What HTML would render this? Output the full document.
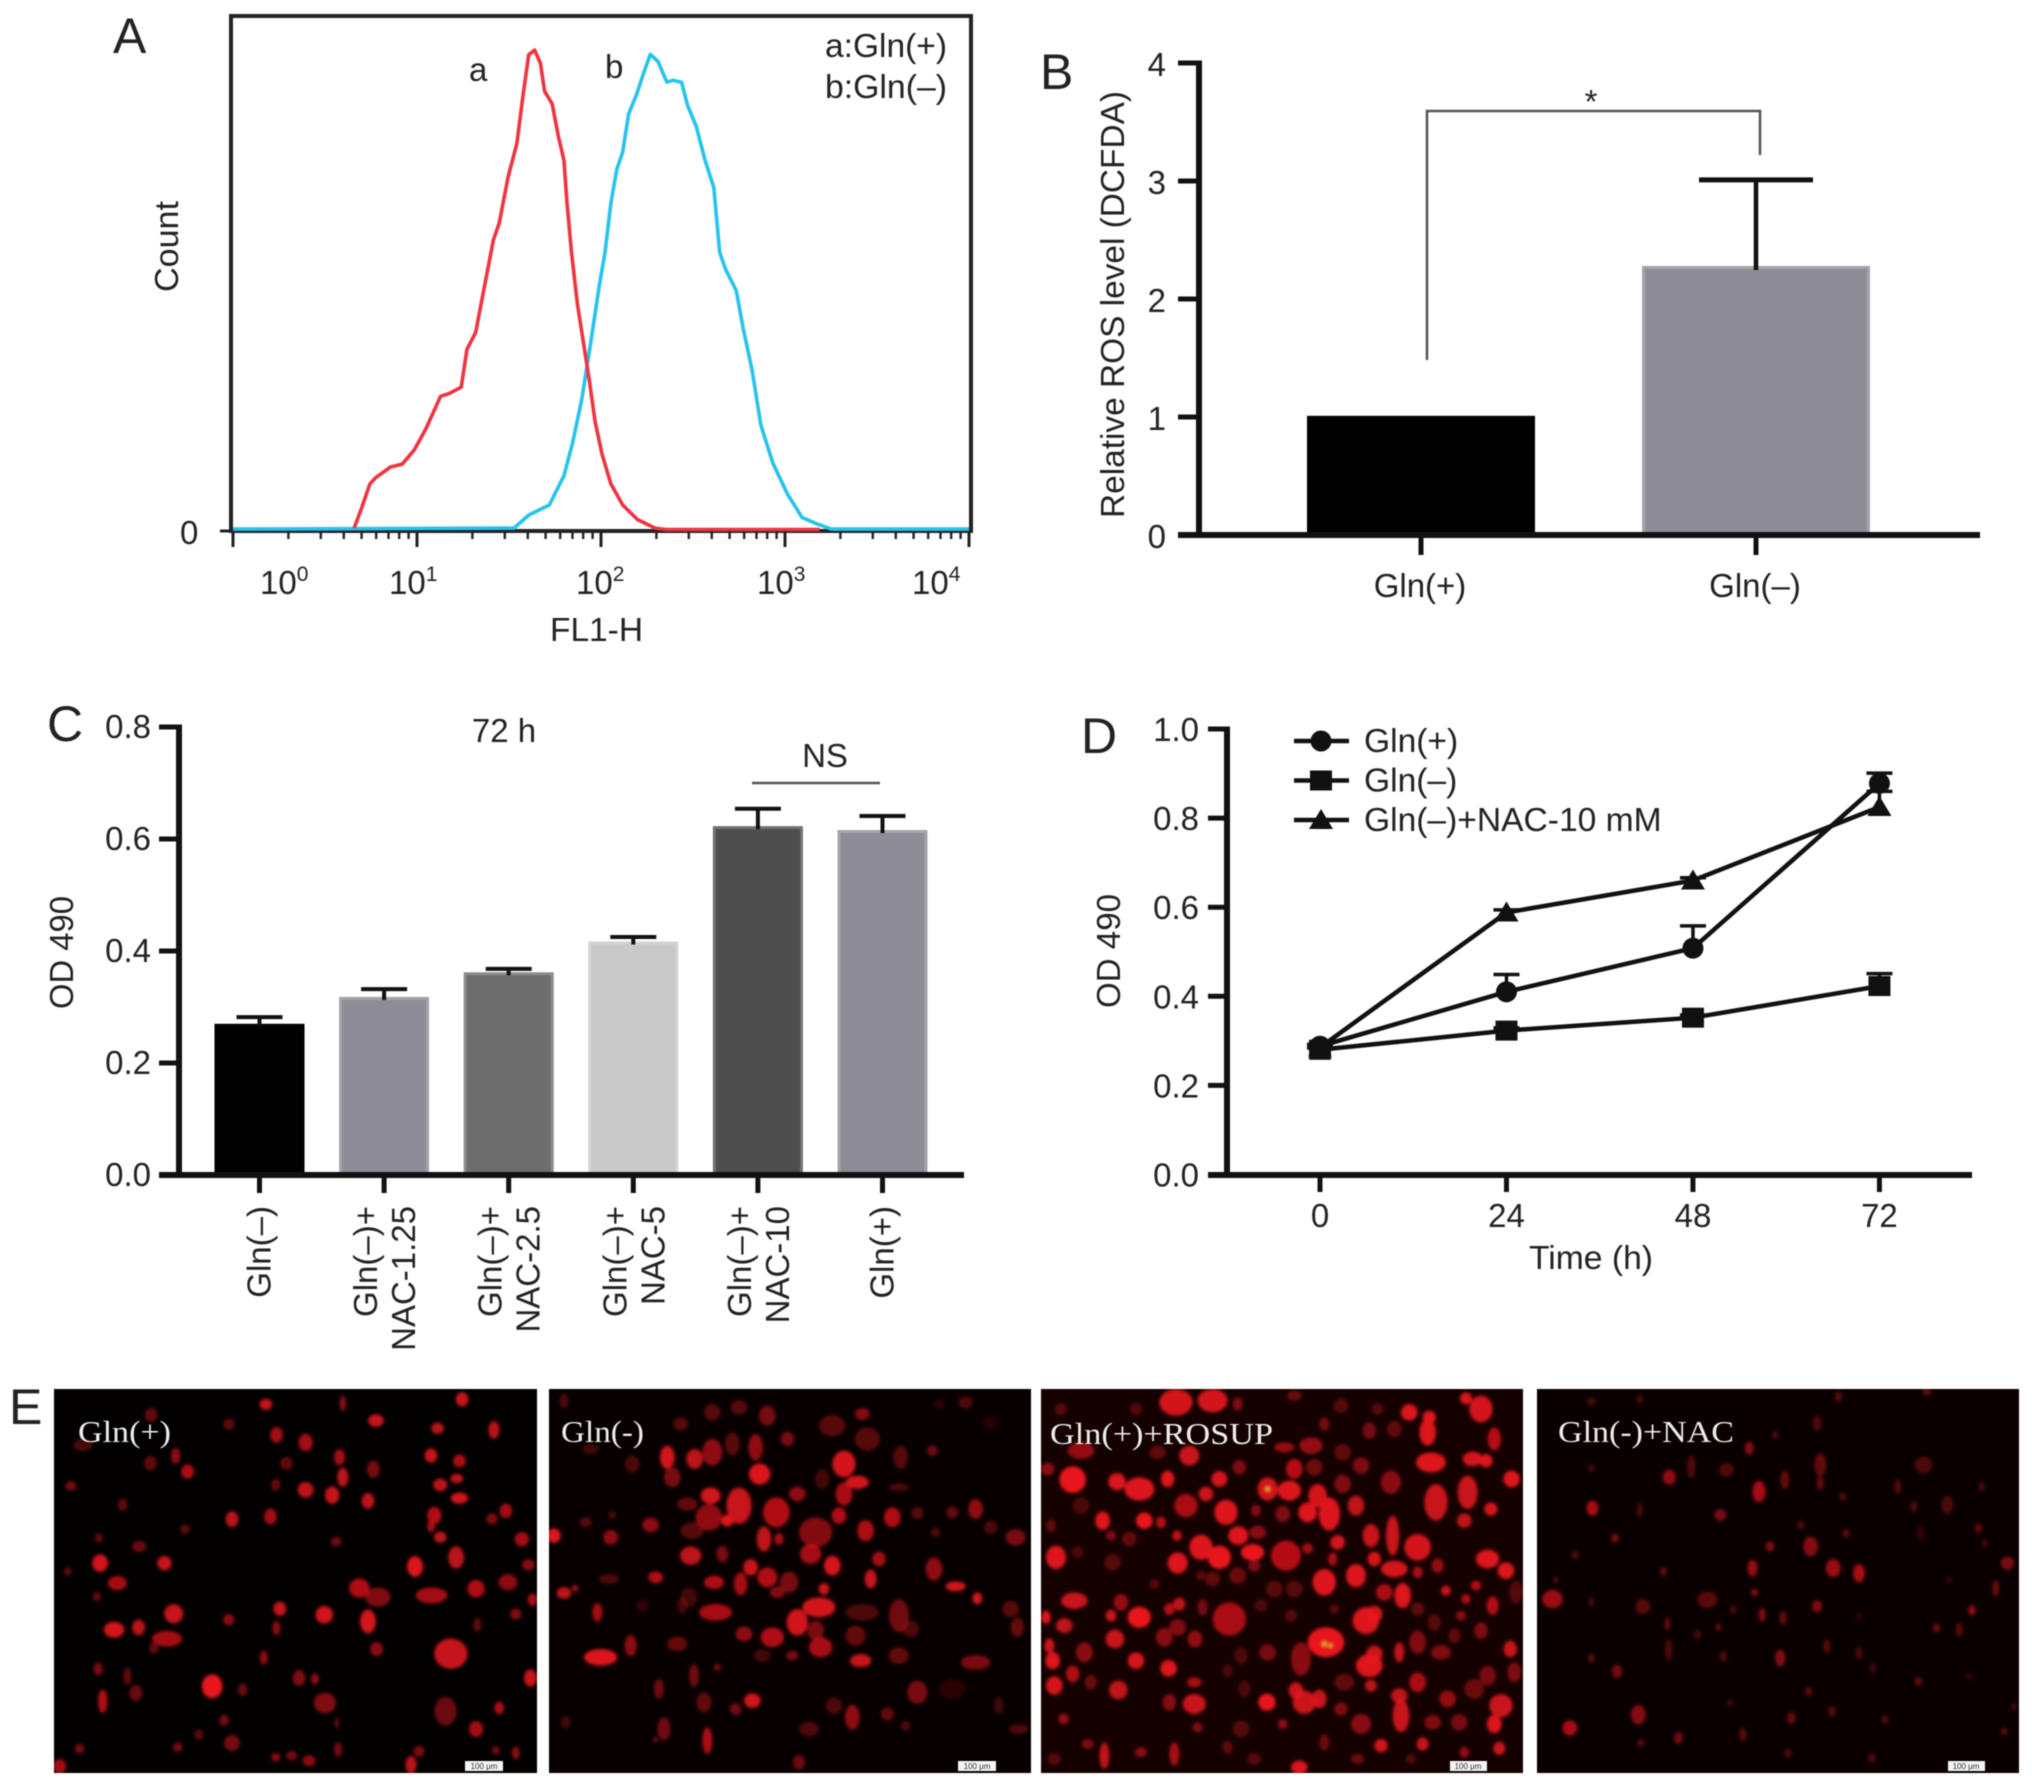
<!DOCTYPE html>
<html lang="en">
<head>
<meta charset="utf-8">
<title>Gln deprivation ROS figure</title>
<style>
html,body{margin:0;padding:0;background:#fff;width:2032px;height:1786px;overflow:hidden}
svg{display:block;filter:blur(.6px)}
text{font-family:"Liberation Sans",Arial,sans-serif;fill:#222;font-size:33px}
.serif{font-family:"Liberation Serif",serif;fill:#eee;font-size:31px}
.letter{font-size:50px;fill:#222}
.tiny{font-size:8px;fill:#333}
</style>
</head>
<body>
<svg id="fig" xmlns="http://www.w3.org/2000/svg" width="2032" height="1786" viewBox="0 0 2032 1786">
  <defs>
    <filter id="soft" x="-5%" y="-5%" width="110%" height="110%"><feGaussianBlur stdDeviation="1.5"/></filter>
    <clipPath id="clip1"><rect x="54" y="1389" width="483" height="384"/></clipPath>
    <clipPath id="clip2"><rect x="549" y="1389" width="482" height="384"/></clipPath>
    <clipPath id="clip3"><rect x="1041" y="1389" width="482" height="384"/></clipPath>
    <clipPath id="clip4"><rect x="1537" y="1389" width="482" height="384"/></clipPath>
  </defs>
  <rect width="2032" height="1786" fill="#fff"/>

  <text class="letter" x="113" y="53">A</text>
  <text class="letter" x="1040" y="89">B</text>
  <text class="letter" x="47" y="741">C</text>
  <text class="letter" x="1081" y="753">D</text>
  <text class="letter" x="9" y="1424">E</text>

  <g id="panelA">
    <rect x="231" y="16" width="740" height="515" fill="none" stroke="#222" stroke-width="4"/>
    <text transform="translate(178 292) rotate(-90)" textLength="91" lengthAdjust="spacingAndGlyphs">Count</text>
    <text x="550" y="641" textLength="93" lengthAdjust="spacingAndGlyphs">FL1-H</text>
    <text x="180" y="544">0</text>
    <line x1="220" x2="231" y1="531" y2="531" stroke="#222" stroke-width="3"/>
    <text x="260" y="594">10<tspan dy="-13" font-size="21">0</tspan></text>
    <text x="389" y="594">10<tspan dy="-13" font-size="21">1</tspan></text>
    <text x="576" y="594">10<tspan dy="-13" font-size="21">2</tspan></text>
    <text x="757" y="594">10<tspan dy="-13" font-size="21">3</tspan></text>
    <text x="912" y="594">10<tspan dy="-13" font-size="21">4</tspan></text>
    <text x="469" y="81">a</text>
    <text x="605" y="78">b</text>
    <text x="825" y="57" textLength="122" lengthAdjust="spacingAndGlyphs">a:Gln(+)</text>
    <text x="825" y="98" textLength="122" lengthAdjust="spacingAndGlyphs">b:Gln(–)</text>
  </g>

  <g id="panelB">
    <text transform="translate(1124 518) rotate(-90)" textLength="427" lengthAdjust="spacingAndGlyphs">Relative ROS level (DCFDA)</text>
    <path d="M1427 360V111H1760V155" fill="none" stroke="#555" stroke-width="2.5"/>
    <text x="1591" y="113" text-anchor="middle">*</text>
  </g>

  <g id="panelC">
    <text transform="translate(73 1009) rotate(-90)" textLength="113" lengthAdjust="spacingAndGlyphs">OD 490</text>
    <text x="504" y="742" text-anchor="middle">72 h</text>
    <text x="825" y="767" text-anchor="middle">NS</text>
    <line x1="752" x2="880" y1="783" y2="783" stroke="#555" stroke-width="2.5"/>
  </g>

  <g id="panelD">
    <text transform="translate(1120 1008) rotate(-90)" textLength="114" lengthAdjust="spacingAndGlyphs">OD 490</text>
    <text x="1591" y="1269" text-anchor="middle" textLength="124" lengthAdjust="spacingAndGlyphs">Time (h)</text>
  </g>

  <g id="panelE">
    <rect x="54" y="1389" width="483" height="384" fill="#030000"/>
    <rect x="549" y="1389" width="482" height="384" fill="#080000"/>
    <rect x="1041" y="1389" width="482" height="384" fill="#160101"/>
    <rect x="1537" y="1389" width="482" height="384" fill="#0a0000"/>
    <g clip-path="url(#clip1)"><g filter="url(#soft)"><g id="cells1" transform="translate(0 1370) scale(.663 .333)"></g></g></g>
    <g clip-path="url(#clip2)"><g filter="url(#soft)"><g id="cells2" transform="translate(549 1389) scale(.3333)"></g></g></g>
    <g clip-path="url(#clip3)"><g filter="url(#soft)"><g id="cells3" transform="translate(1041 1389) scale(.3333)"></g></g></g>
    <g clip-path="url(#clip4)"><g filter="url(#soft)"><g id="cells4" transform="translate(1020 1370) scale(.6454 .333)"></g></g></g>
    <text class="serif" x="78" y="1442" textLength="93" lengthAdjust="spacingAndGlyphs">Gln(+)</text>
    <text class="serif" x="561" y="1442" textLength="83" lengthAdjust="spacingAndGlyphs">Gln(-)</text>
    <text class="serif" x="1050" y="1444" textLength="223" lengthAdjust="spacingAndGlyphs">Gln(+)+ROSUP</text>
    <text class="serif" x="1558" y="1442" textLength="176" lengthAdjust="spacingAndGlyphs">Gln(-)+NAC</text>
    <rect x="465" y="1761" width="38" height="10" fill="#f4f4f4"/>
    <rect x="958" y="1761" width="38" height="10" fill="#f4f4f4"/>
    <rect x="1450" y="1761" width="37" height="10" fill="#f4f4f4"/>
    <rect x="1948" y="1761" width="37" height="10" fill="#f4f4f4"/>
    <text class="tiny" x="484" y="1769" text-anchor="middle">100 μm</text>
    <text class="tiny" x="977" y="1769" text-anchor="middle">100 μm</text>
    <text class="tiny" x="1468" y="1769" text-anchor="middle">100 μm</text>
    <text class="tiny" x="1966" y="1769" text-anchor="middle">100 μm</text>
  </g>
</svg>
<script>
// ---------- Panel A data: log10(FL1-H) and relative count ----------
const redLogFL = [0.658,0.696,0.744,0.776,0.856,0.92,0.984,1.048,1.128,1.176,1.24,1.272,1.319,1.367,1.415,1.447,1.495,1.543,1.575,1.607,1.639,1.671,1.693,1.735,1.767,1.799,1.815,1.84,1.872,1.911,1.936,1.968,2.006,2.054,2.118,2.198,2.294,2.358,3.188];
const redCount = [0.6,4.5,9.8,11.1,13.3,13.9,16.8,21.2,28,28.6,29.9,37.8,41.3,50.9,60.5,64,73.6,80.6,90.2,99,100,97.2,91.5,88.8,82.3,77,68.2,57.7,47.2,37.6,31.5,22.7,15.9,9.8,5.4,2.4,0.6,0.3,0.3];
const blueLogFL = [0,1.527,1.607,1.719,1.799,1.847,1.895,1.942,1.99,2.022,2.054,2.086,2.118,2.15,2.192,2.23,2.268,2.31,2.358,2.39,2.438,2.47,2.518,2.565,2.613,2.645,2.677,2.735,2.773,2.821,2.869,2.933,3.013,3.093,3.173,3.252,4];
const blueCount = [0.4,0.6,3.3,5.4,11.5,18.5,27.3,38.6,50.9,57.9,68.2,75.2,78.8,86.7,90.6,95,99.1,97.6,93.3,93.7,93.3,88.5,84.1,77.1,71.4,57.9,54.4,50,42.1,33.4,22,14.2,7.7,2.8,1.5,0.4,0.4];
const fluorDecades = [0,1,2,3];
const minorMultiples = [2,3,4,5,6,7,8,9];

// ---------- Panel B data ----------
const rosCategories = ['Gln(+)','Gln(–)'];
const rosValues = [1.01,2.28];
const rosErrors = [0,0.73];
const rosTicks = ['0','1','2','3','4'];

// ---------- Panel C data ----------
const doseLine1 = ['Gln(–)','Gln(–)+','Gln(–)+','Gln(–)+','Gln(–)+','Gln(+)'];
const doseLine2 = ['','NAC-1.25','NAC-2.5','NAC-5','NAC-10',''];
const doseValues = [0.27,0.318,0.362,0.417,0.623,0.616];
const doseErrors = [0.012,0.014,0.006,0.008,0.031,0.025];
const doseTicks = ['0.0','0.2','0.4','0.6','0.8'];

// ---------- Panel D data ----------
const hours = [0,24,48,72];
const glnPlus = [0.288,0.41,0.508,0.878];
const glnPlusErr = [0.004,0.039,0.05,0.023];
const glnMinus = [0.28,0.323,0.352,0.423];
const glnMinusErr = [0.004,0.006,0.006,0.028];
const glnNac = [0.285,0.588,0.66,0.825];
const glnNacErr = [0.003,0.006,0.006,0.035];
const odTicks = ['0.0','0.2','0.4','0.6','0.8','1.0'];
const legendNames = ['Gln(+)','Gln(–)','Gln(–)+NAC-10 mM'];

// ---------- Panel E: fluorescent cells [x,y,rx,ry,opacity] in image sample coordinates ----------
const cells1 = [[401,103,8,14,.85],[697,88,8,18,.85],[517,100,4,20,.6],[567,152,10,16,.85],[228,135,8,18,.4],[345,163,7,14,.4],[660,175,8,14,.8],[745,180,7,22,.8],[417,195,8,20,.7],[461,218,9,22,.7],[125,225,12,16,.3],[265,258,6,20,.6],[227,280,8,18,.4],[283,305,8,18,.75],[512,262,7,20,.7],[650,257,8,18,.85],[693,273,8,16,.75],[563,298,8,22,.5],[432,280,8,16,.4],[517,322,7,24,.8],[689,326,8,12,.8],[664,345,9,16,.8],[461,360,10,20,.8],[501,376,9,22,.85],[416,345,6,16,.4],[693,385,11,14,.9],[555,393,8,20,.8],[107,348,7,12,.5],[185,405,6,16,.4],[655,437,9,22,.75],[650,470,5,14,.7],[763,423,8,18,.7],[742,447,7,14,.55],[350,448,8,20,.8],[408,440,8,20,.7],[279,478,6,12,.4],[664,502,8,14,.8],[787,508,9,18,.7],[210,530,9,14,.45],[507,515,7,12,.45],[149,505,5,12,.4],[688,563,10,28,.8],[151,580,10,22,.9],[248,580,9,18,.85],[626,590,10,26,.95],[797,585,8,14,.6],[102,605,5,10,.4],[177,640,12,18,.7],[542,655,13,24,.75],[570,682,16,24,.55],[651,677,20,20,.7],[718,657,11,22,.75],[766,637,12,20,.6],[146,680,5,12,.4],[803,690,6,16,.7],[422,717,8,18,.85],[262,732,12,24,.85],[489,735,11,22,.9],[555,755,10,30,.9],[345,750,7,14,.6],[778,733,7,14,.55],[172,780,13,20,.9],[209,773,8,20,.8],[417,775,5,18,.6],[252,807,19,20,.7],[232,835,6,14,.4],[720,765,5,18,.4],[680,852,21,38,.85],[568,838,8,18,.6],[398,864,5,18,.6],[148,898,6,16,.5],[192,920,5,22,.4],[451,925,8,20,.55],[475,928,5,14,.6],[800,925,8,22,.85],[320,950,13,30,1],[366,960,6,16,.45],[205,970,8,20,.45],[155,995,6,30,.75],[490,1000,14,26,.55],[672,1025,14,36,.45],[753,1015,6,16,.75],[338,1052,6,14,.5],[718,1078,9,20,.7],[300,1095,6,14,.35],[508,1060,3,14,.4],[350,1120,10,20,.5],[120,1137,6,12,.5],[268,1133,6,12,.5],[510,1140,5,18,.5],[416,1163,6,10,.6],[440,1158,7,12,.5],[466,1173,8,14,.6],[620,1185,7,22,.8],[632,1145,7,14,.5],[748,1142,5,10,.5],[778,1150,5,16,.6],[90,1190,8,18,.7]];
const cells2 = [[632,255,32,32,.95],[885,225,35,40,.9],[925,280,35,20,.9],[355,205,22,35,.9],[370,265,25,30,.5],[437,210,25,30,.8],[490,190,30,40,.6],[485,320,30,25,.9],[570,350,38,55,.85],[535,395,18,18,.95],[480,385,40,40,.6],[430,425,35,25,.35],[415,345,30,20,.4],[682,370,40,45,.75],[800,430,50,45,.55],[645,450,22,38,.8],[690,450,14,18,.7],[425,500,32,28,.8],[520,495,18,25,.5],[785,495,32,30,.7],[850,530,25,30,.9],[605,535,22,25,.85],[655,565,30,30,.75],[720,580,28,32,.5],[685,610,22,18,.55],[575,585,20,35,.7],[495,580,30,20,.75],[825,600,16,18,.85],[810,655,50,30,.9],[745,700,32,40,.9],[800,725,25,30,.5],[815,775,35,30,.7],[670,745,35,30,.75],[585,735,25,22,.6],[500,670,50,25,.7],[965,570,18,28,.85],[990,510,20,22,.7],[1030,385,25,30,.75],[950,425,25,32,.75],[870,380,22,25,.75],[885,315,25,35,.7],[745,315,25,22,.6],[935,815,32,20,.85],[1050,680,30,50,.45],[1085,720,25,25,.3],[940,670,50,25,.3],[920,740,30,30,.4],[1050,800,30,25,.4],[1155,540,25,35,.6],[1220,592,30,15,.9],[1285,628,15,18,.9],[1280,360,22,30,.6],[1210,370,18,18,.4],[1105,372,18,18,.35],[1400,445,30,25,.5],[1325,415,20,20,.3],[1160,430,14,14,.3],[1385,660,25,25,.35],[1405,715,20,30,.4],[1280,820,45,22,.5],[1105,910,30,35,.5],[1210,900,40,30,.15],[910,985,22,38,.6],[855,950,25,25,.3],[1015,975,20,20,.4],[1070,1010,15,15,.3],[780,1020,30,22,.3],[750,1120,18,22,.45],[610,935,25,22,.9],[560,960,18,18,.45],[465,940,22,30,.4],[435,860,15,35,.45],[505,835,12,12,.4],[330,900,15,30,.45],[345,1020,20,35,.45],[475,1055,15,40,.75],[320,1052,8,8,.5],[385,765,30,22,.4],[245,770,18,32,.6],[155,805,50,25,.95],[145,670,15,28,.7],[45,612,22,18,.8],[78,598,10,10,.7],[320,565,22,18,.75],[420,625,25,30,.25],[180,570,30,15,.3],[15,440,20,22,.95],[185,445,22,22,.6],[305,408,25,22,.6],[110,400,18,15,.35],[190,378,12,12,.3],[250,225,22,25,.3],[125,180,25,15,.25],[395,105,22,20,.35],[490,70,25,25,.35],[550,165,22,35,.35],[620,175,22,40,.6],[655,80,25,30,.5],[570,55,25,22,.35],[715,150,20,22,.5],[850,110,40,32,.35],[940,75,22,18,.55],[955,150,38,35,.35],[820,270,22,30,.25],[1055,205,22,35,.35],[1150,185,16,16,.45],[1050,295,30,12,.3],[45,35,14,22,.3],[1250,40,22,18,.3],[1325,100,22,18,.15],[1170,45,14,14,.2],[730,800,18,15,.5],[640,800,25,20,.25],[280,650,18,18,.2],[400,650,15,25,.25],[50,1000,15,20,.25],[1350,950,15,25,.25],[1410,1020,30,15,.3]];
const cells3 = [[95,272,40,40,1],[228,278,26,26,.95],[295,300,45,35,.95],[380,270,20,25,.95],[435,350,35,35,.7],[495,315,22,22,.85],[405,40,50,40,.9],[515,35,45,35,.9],[445,200,30,30,.85],[535,270,24,24,.9],[555,370,35,38,.95],[680,300,30,35,.9],[745,305,35,30,.95],[830,320,28,35,.9],[800,370,28,30,.95],[865,375,32,50,.95],[945,350,25,30,.8],[760,240,25,30,.75],[820,235,25,25,.4],[905,285,25,28,.5],[595,235,20,22,.5],[645,365,15,18,.5],[725,375,22,25,.5],[185,395,22,28,.95],[310,395,25,25,1],[360,400,15,18,.75],[120,350,25,25,.25],[408,440,14,16,.8],[480,475,35,38,.95],[535,505,35,35,1],[592,440,30,28,.95],[635,490,35,25,1],[410,522,30,32,.95],[735,500,45,45,.75],[800,478,16,16,.65],[890,460,22,22,.9],[875,510,14,20,.7],[650,430,25,20,.55],[45,505,30,35,.95],[850,580,35,40,.95],[945,560,30,35,.95],[1000,510,20,22,.9],[1060,540,40,25,.9],[1085,620,25,38,.95],[1030,610,25,25,.7],[990,440,25,35,.85],[1055,440,20,60,.85],[1130,475,40,40,.9],[1185,340,35,55,.85],[1280,310,30,50,.85],[1350,360,20,20,.9],[1270,395,22,22,.8],[1160,130,25,40,.95],[1165,85,20,20,.95],[1105,70,25,25,.95],[1170,220,45,30,.95],[1275,28,18,18,.95],[1320,60,35,40,.9],[1295,210,30,22,.9],[1335,215,20,20,.95],[1360,150,20,35,.75],[1412,270,25,25,.95],[1050,280,30,35,.55],[960,230,25,25,.5],[1060,120,22,25,.35],[985,125,20,25,.45],[905,190,25,25,.35],[810,170,35,25,.6],[730,175,30,15,.6],[850,105,15,20,.45],[1340,510,35,28,.95],[1395,545,25,25,.95],[1215,605,15,15,.85],[1305,590,15,15,.75],[1275,630,14,14,.75],[1355,650,18,28,.75],[1190,530,18,22,.6],[1130,550,15,18,.7],[1425,610,20,35,.3],[100,635,40,25,.85],[15,685,14,20,.95],[70,710,25,22,.8],[295,685,35,32,1],[210,680,16,18,.85],[240,640,22,25,.6],[385,660,16,18,.75],[415,645,18,20,.8],[565,690,50,50,.7],[485,655,15,25,.45],[25,770,15,22,.85],[222,750,28,28,.85],[370,745,25,28,.55],[410,715,25,25,.5],[462,750,22,25,.6],[35,815,22,26,.95],[130,790,25,30,.55],[285,815,25,25,.9],[383,838,25,25,.95],[95,855,20,25,.75],[40,890,25,28,.9],[150,880,18,22,.4],[232,903,28,28,.8],[68,990,16,16,.6],[460,880,22,15,.7],[385,940,20,25,.55],[460,945,35,30,.85],[678,940,26,26,1],[765,905,22,25,.85],[790,940,35,35,.85],[835,930,22,28,.85],[960,1005,30,30,.55],[1080,980,25,50,.85],[1075,920,25,22,.8],[990,890,18,18,.8],[1130,880,25,30,.7],[1220,930,25,25,.6],[1380,950,35,35,.85],[1360,1005,22,28,.95],[1175,1000,25,22,.5],[1255,1000,25,25,.45],[1300,900,30,30,.4],[985,830,40,35,.95],[1000,795,25,25,.85],[975,695,40,40,.95],[1000,675,25,25,.85],[855,760,55,45,1],[1075,790,15,30,.8],[1130,760,25,35,.5],[1200,790,30,22,.5],[1260,680,15,15,.55],[1320,725,20,25,.5],[1408,780,20,25,.85],[1340,860,25,30,.45],[1420,850,20,30,.5],[780,810,30,50,.55],[680,790,25,25,.45],[910,880,30,25,.35],[900,960,20,20,.5],[1020,1070,20,20,.9],[1145,1065,18,20,.85],[1375,1078,18,20,.85],[1270,1090,14,16,.6],[725,1005,14,14,.6],[775,1135,25,20,.95],[190,1100,15,40,.8],[400,1095,15,35,.7],[470,1015,15,15,.5],[140,1065,18,15,.5],[300,1090,18,15,.55],[850,1060,15,25,.4],[950,1110,20,15,.4],[40,1110,20,18,.3],[600,1020,25,25,.3],[560,1075,15,20,.35],[640,1110,20,18,.3],[1110,1110,15,15,.3],[600,800,20,25,.25],[610,900,18,25,.25],[560,845,15,20,.25],[110,490,18,18,.25],[215,520,25,25,.3],[30,410,15,20,.35],[265,450,22,22,.35],[210,440,15,15,.5],[515,570,22,22,.35],[590,560,25,25,.4],[640,530,18,18,.5],[700,600,25,25,.3],[760,600,25,25,.3],[660,650,20,20,.25],[1130,660,20,20,.35],[1180,700,20,25,.3],[1240,740,18,22,.35],[750,680,18,18,.3],[480,560,15,15,.3],[340,585,15,15,.3],[1010,60,18,18,.3],[900,50,22,22,.3],[760,20,22,15,.4],[590,45,15,20,.5],[285,60,18,18,.3],[60,60,18,18,.3],[120,185,40,25,.6],[20,240,20,20,.55],[350,190,25,20,.35],[880,660,14,14,.3]];
const cells4 = [[1006,322,9,20,.6],[887,415,8,20,.7],[1145,365,9,28,.7],[1085,435,8,16,.5],[1095,300,10,18,.3],[1225,530,10,26,.55],[1162,530,6,14,.5],[922,505,5,12,.5],[1280,490,5,12,.35],[1135,595,7,22,.6],[1260,595,10,24,.65],[1300,610,8,24,.7],[1530,580,9,18,.5],[825,688,14,24,.65],[1065,690,14,22,.35],[965,710,10,20,.35],[997,605,5,12,.4],[1512,655,5,22,.4],[1138,668,5,10,.5],[1235,710,7,16,.5],[1475,722,5,14,.6],[1150,735,5,18,.5],[1182,745,5,18,.4],[1003,762,4,18,.4],[1082,772,4,10,.4],[1420,775,5,12,.45],[1455,780,5,18,.35],[1250,830,5,18,.35],[1178,865,7,22,.55],[1005,840,5,28,.3],[885,865,4,12,.4],[925,905,7,18,.45],[1090,860,5,14,.3],[1300,850,5,16,.3],[1392,935,5,12,.4],[1222,965,5,12,.35],[1322,895,4,14,.25],[958,1035,10,26,.55],[1258,1025,5,14,.35],[1195,1045,6,16,.4],[1340,1050,5,12,.3],[852,1075,10,20,.7],[1020,1105,6,16,.45],[1120,1095,5,18,.35],[962,1120,5,10,.35],[1525,1085,5,10,.35],[1190,1150,5,12,.3],[1320,1165,6,12,.3],[1405,65,6,10,.4],[1268,80,5,14,.35],[960,88,4,12,.3],[885,95,6,10,.3],[1235,160,6,20,.3],[1130,235,6,18,.55],[1170,195,4,10,.35],[1240,285,8,30,.4],[1400,285,12,22,.3],[1185,330,6,24,.4],[1240,340,5,18,.4],[1360,350,5,20,.3],[1275,380,5,12,.3],[1437,405,8,24,.3],[1385,410,5,14,.3],[1485,475,5,12,.4],[1395,490,5,18,.2],[1495,520,4,10,.3],[960,420,4,20,.3],[1040,290,6,30,.3],[885,295,4,10,.3],[1490,350,4,14,.3],[860,555,5,12,.3],[1210,465,5,12,.3],[830,630,4,10,.3],[885,695,4,14,.25],[1050,795,5,14,.25],[1105,720,5,10,.3],[1440,630,4,10,.2],[1300,740,4,10,.2],[1470,920,4,10,.2],[1540,1010,4,10,.25],[1100,1000,4,10,.25]];
const sparks3 = [[680,300,6,6],[850,765,6,6],[868,770,5,5]];
const cellGrowth = [1.2,1,1,1.15];

const NS = 'http://www.w3.org/2000/svg';
function mk(tag, attrs, parent, txt) {
  const el = document.createElementNS(NS, tag);
  for (const k in attrs) el.setAttribute(k, attrs[k]);
  if (txt !== undefined) el.textContent = txt;
  parent.appendChild(el);
  return el;
}
const ink = '#111';

// ---------- Panel A ----------
(function () {
  const g = document.getElementById('panelA');
  const x = v => 233 + 184 * v;
  const y = c => 531 - c * 4.81;
  const pts = (xs, ys) => xs.map((v, i) => x(v).toFixed(1) + ',' + y(ys[i]).toFixed(1)).join(' ');
  const blue = mk('polyline', {points: pts(blueLogFL, blueCount), fill: 'none', stroke: '#27c3ec', 'stroke-width': 3.6, 'stroke-linejoin': 'round'}, g);
  
  
  const red = mk('polyline', {points: pts(redLogFL, redCount), fill: 'none', stroke: '#ee3440', 'stroke-width': 3.6, 'stroke-linejoin': 'round'}, g);
  
  
  fluorDecades.forEach(d => {
    const major = mk('line', {x1: x(d), x2: x(d), y1: 531, y2: 547, stroke: '#222', 'stroke-width': 3}, g);
    
    
    minorMultiples.forEach(m => {
      const minor = mk('line', {x1: x(d + Math.log10(m)), x2: x(d + Math.log10(m)), y1: 531, y2: 539, stroke: '#222', 'stroke-width': 2.4}, g);
      
      
    });
  });
  const last = mk('line', {x1: x(4), x2: x(4), y1: 531, y2: 547, stroke: '#222', 'stroke-width': 3}, g);
  
  
})();

// ---------- Panel B ----------
(function () {
  const g = document.getElementById('panelB');
  const y = v => 535 - v * 118;
  const cx = [1421, 1756];
  const fills = ['#000', '#8e8d95'];
  rosValues.forEach((v, i) => {
    const bar = mk('rect', {x: cx[i] - 114, y: y(v), width: 228, height: y(0) - y(v), fill: fills[i], stroke: i ? '#fff' : 'none', 'stroke-opacity': .2, 'stroke-width': 6}, g);
    
    
    if (rosErrors[i] > 0) {
      const stem = mk('line', {x1: cx[i], x2: cx[i], y1: y(v) + 4, y2: y(v + rosErrors[i]), stroke: ink, 'stroke-width': 4.5}, g);
      
      
      const cap = mk('line', {x1: cx[i] - 57, x2: cx[i] + 57, y1: y(v + rosErrors[i]), y2: y(v + rosErrors[i]), stroke: ink, 'stroke-width': 5}, g);
      
      
    }
    const tick = mk('line', {x1: cx[i], x2: cx[i], y1: 535, y2: 555, stroke: ink, 'stroke-width': 5}, g);
    
    
    const lab = mk('text', {x: cx[i] - 1, y: 597, 'text-anchor': 'middle'}, g, rosCategories[i]);
    
    
  });
  rosTicks.forEach((t, i) => {
    const tick = mk('line', {x1: 1178, x2: 1199, y1: y(i), y2: y(i), stroke: ink, 'stroke-width': 5}, g);
    
    
    const lab = mk('text', {x: 1166, y: y(i) + 13, 'text-anchor': 'end'}, g, t);
    
    
  });
  const ya = mk('line', {x1: 1199, x2: 1199, y1: y(4) - 2.5, y2: 537, stroke: ink, 'stroke-width': 6}, g);
  
  
  const xa = mk('line', {x1: 1178, x2: 1980, y1: 535, y2: 535, stroke: ink, 'stroke-width': 6}, g);
  
  
})();

// ---------- Panel C ----------
(function () {
  const g = document.getElementById('panelC');
  const y = v => 1175 - v * 560;
  const x = i => 259.5 + i * 124.6;
  const fills = ['#000', '#8e8d95', '#6e6e6e', '#c9c9c9', '#4e4e4e', '#8e8d95'];
  doseValues.forEach((v, i) => {
    const bar = mk('rect', {x: x(i) - 45, y: y(v), width: 90, height: y(0) - y(v), fill: fills[i], stroke: i ? '#fff' : 'none', 'stroke-opacity': .2, 'stroke-width': 6}, g);
    
    
    const stem = mk('line', {x1: x(i), x2: x(i), y1: y(v) + 3, y2: y(v + doseErrors[i]), stroke: ink, 'stroke-width': 4}, g);
    
    
    const cap = mk('line', {x1: x(i) - 23, x2: x(i) + 23, y1: y(v + doseErrors[i]), y2: y(v + doseErrors[i]), stroke: ink, 'stroke-width': 4}, g);
    
    
    const tick = mk('line', {x1: x(i), x2: x(i), y1: 1175, y2: 1193, stroke: ink, 'stroke-width': 5}, g);
    
    
    const two = doseLine2[i] !== '';
    const bx1 = two ? x(i) - 7 : x(i) + 11;
    const l1 = mk('text', {transform: 'translate(' + bx1 + ' 1206) rotate(-90)', 'text-anchor': 'end'}, g, doseLine1[i]);
    
    
    if (two) {
      const l2 = mk('text', {transform: 'translate(' + (x(i) + 31) + ' 1206) rotate(-90)', 'text-anchor': 'end'}, g, doseLine2[i]);
      
      
    }
  });
  doseTicks.forEach((t, i) => {
    const tick = mk('line', {x1: 159, x2: 179, y1: y(i * 0.2), y2: y(i * 0.2), stroke: ink, 'stroke-width': 5}, g);
    
    
    const lab = mk('text', {x: 151, y: y(i * 0.2) + 11, 'text-anchor': 'end'}, g, t);
    
    
  });
  const ya = mk('line', {x1: 179, x2: 179, y1: y(0.8) - 2.5, y2: 1177, stroke: ink, 'stroke-width': 6}, g);
  
  
  const xa = mk('line', {x1: 159, x2: 964, y1: 1175, y2: 1175, stroke: ink, 'stroke-width': 6}, g);
  
  
})();

// ---------- Panel D ----------
(function () {
  const g = document.getElementById('panelD');
  const x = h => 1320 + h * 7.77;
  const y = v => 1174.5 - v * 445.5;
  function marker(kind, cx, cy, parent) {
    if (kind === 0) return mk('circle', {cx: cx, cy: cy, r: 10.5, fill: ink}, parent);
    if (kind === 1) return mk('rect', {x: cx - 11, y: cy - 10, width: 22, height: 20, fill: ink}, parent);
    return mk('path', {d: 'M' + cx + ' ' + (cy - 11) + 'L' + (cx + 12) + ' ' + (cy + 9) + 'H' + (cx - 12) + 'Z', fill: ink}, parent);
  }
  const series = [[glnPlus, glnPlusErr], [glnMinus, glnMinusErr], [glnNac, glnNacErr]];
  series.forEach((s, k) => {
    const line = mk('polyline', {points: hours.map((h, i) => x(h) + ',' + y(s[0][i]).toFixed(1)).join(' '), fill: 'none', stroke: ink, 'stroke-width': 4.5}, g);
    
    
    hours.forEach((h, i) => {
      const top = y(s[0][i] + s[1][i]);
      const stem = mk('line', {x1: x(h), x2: x(h), y1: y(s[0][i]), y2: top, stroke: ink, 'stroke-width': 3.5}, g);
      
      
      const cap = mk('line', {x1: x(h) - 13, x2: x(h) + 13, y1: top, y2: top, stroke: ink, 'stroke-width': 3.5}, g);
      
      
      const pt = marker(k, x(h), y(s[0][i]), g);
      
      
    });
  });
  hours.forEach(h => {
    const tick = mk('line', {x1: x(h), x2: x(h), y1: 1175, y2: 1192, stroke: ink, 'stroke-width': 5}, g);
    
    
    const lab = mk('text', {x: x(h), y: 1227, 'text-anchor': 'middle'}, g, String(h));
    
    
  });
  odTicks.forEach((t, i) => {
    const tick = mk('line', {x1: 1208, x2: 1227, y1: y(i * 0.2), y2: y(i * 0.2), stroke: ink, 'stroke-width': 5}, g);
    
    
    const lab = mk('text', {x: 1199, y: y(i * 0.2) + 12, 'text-anchor': 'end'}, g, t);
    
    
  });
  const ya = mk('line', {x1: 1227, x2: 1227, y1: y(1) - 2.5, y2: 1177, stroke: ink, 'stroke-width': 6}, g);
  
  
  const xa = mk('line', {x1: 1208, x2: 1972, y1: 1175, y2: 1175, stroke: ink, 'stroke-width': 6}, g);
  
  
  legendNames.forEach((n, k) => {
    const ly = 741 + k * 39.5;
    const seg = mk('line', {x1: 1294, x2: 1349, y1: ly, y2: ly, stroke: ink, 'stroke-width': 4.5}, g);
    
    
    const mark = marker(k, 1321, ly, g);
    
    
    const lab = mk('text', {x: 1364, y: ly + 11, style: 'font-size:33.6px'}, g, n);
    
    
  });
})();

// ---------- Panel E ----------
[cells1, cells2, cells3, cells4].forEach((list, n) => {
  const g = document.getElementById('cells' + (n + 1));
  list.forEach(c => {
    const cell = mk('ellipse', {cx: c[0], cy: c[1], rx: c[2] * cellGrowth[n], ry: c[3] * cellGrowth[n], fill: '#e8161e', opacity: c[4]}, g);
    
    
  });
});
sparks3.forEach(s => {
  const spark = mk('ellipse', {cx: s[0], cy: s[1], rx: s[2], ry: s[3], fill: '#e0c830'}, document.getElementById('cells3'));
  
  
});
</script>
</body>
</html>
